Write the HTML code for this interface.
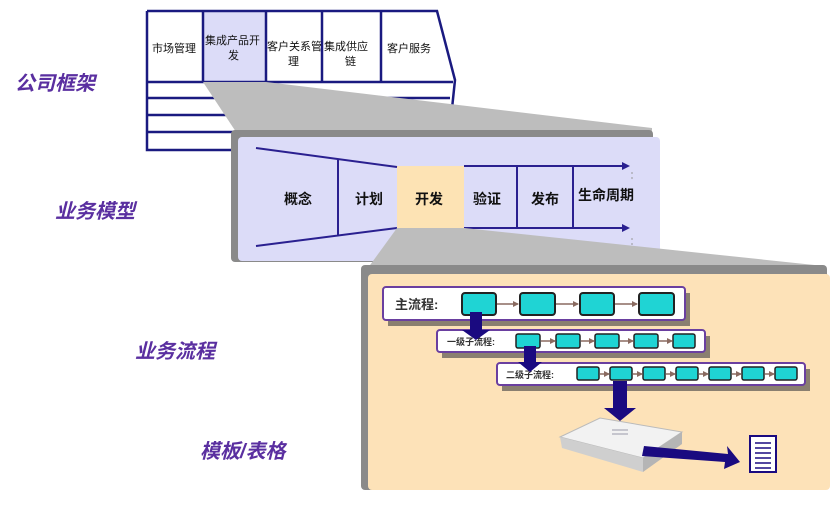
<!DOCTYPE html>
<html><head><meta charset="utf-8"><style>
body{margin:0;background:#fff}
svg text{font-family:"Liberation Sans","Noto Sans CJK SC",sans-serif}
.lab{fill:#5a2fa0;font-size:20px;font-style:italic;font-weight:bold}
.t{font-size:11px;fill:#111}
.m{font-size:14px;fill:#111;font-weight:bold}
</style></head><body>
<svg width="839" height="502" viewBox="0 0 839 502">
<defs><marker id="a" markerWidth="6" markerHeight="6" refX="5" refY="3" orient="auto" markerUnits="userSpaceOnUse"><path d="M0 0L6 3L0 6Z" fill="#8a6a60"/></marker></defs>
<rect width="839" height="502" fill="#fff"/>
<rect x="203" y="11" width="63" height="71" fill="#dcdcf8"/>
<g stroke="#1a1a80" stroke-width="2.5" fill="none">
<path d="M147 11 H437 L455 80 L451 118 M147 11 V150 H240"/>
<path d="M147 82 H453 M147 98 H450 M147 115 H449 M147 132 H240"/>
<path d="M203 11 V82 M266 11 V82 M322 11 V82 M381 11 V82"/>
</g>
<text class="t" x="152" y="52">市场管理</text>
<text class="t" x="205" y="44">集成产品开</text><text class="t" x="228" y="59">发</text>
<text class="t" x="267" y="50">客户关系管</text><text class="t" x="288" y="65">理</text>
<text class="t" x="324" y="50">集成供应</text><text class="t" x="345" y="65">链</text>
<text class="t" x="387" y="52">客户服务</text>
<polygon points="203,82 266,82 652,128 652,135 240,138" fill="#bdbdbd"/>
<rect x="231" y="130" width="422" height="132" rx="4" fill="#8a8a8a"/>
<rect x="238" y="137" width="422" height="124" rx="4" fill="#dcdcf8"/>
<rect x="397" y="166" width="67" height="62" fill="#fde3b4"/>
<g stroke="#2a2090" stroke-width="2" fill="none">
<path d="M256 148 L397 167 M256 246 L397 228 M338 160 V236"/>
<path d="M464 166 H622 M464 228 H622 M517 166 V228 M573 166 V228"/>
</g>
<path d="M622 162 L630 166 L622 170Z M622 224 L630 228 L622 232Z" fill="#2a2090"/>
<path d="M632 172 V182 M632 238 V250" stroke="#999" stroke-dasharray="2 3"/>
<g class="m">
<text x="284" y="204">概念</text><text x="355" y="204">计划</text><text x="415" y="204" >开发</text>
<text x="473" y="204">验证</text><text x="531" y="204">发布</text><text x="578" y="200">生命周期</text></g>
<polygon points="397,228 464,228 824,266 824,272 365,272" fill="#bdbdbd"/>
<rect x="361" y="265" width="466" height="225" rx="4" fill="#8a8a8a"/>
<rect x="368" y="274" width="462" height="216" rx="4" fill="#fde2b8"/>
<rect x="388" y="293" width="302" height="33" fill="#8a7f70"/>
<rect x="383" y="287" width="302" height="33" rx="3" fill="#fff" stroke="#6a3fa0" stroke-width="2"/>
<text x="395" y="309" style="font-size:13px;font-weight:bold;fill:#333">主流程:</text>
<g fill="#1fd4d4" stroke="#222" stroke-width="2">
<rect x="462" y="293" width="34" height="22" rx="3"/><rect x="520" y="293" width="35" height="22" rx="3"/>
<rect x="580" y="293" width="34" height="22" rx="3"/><rect x="639" y="293" width="35" height="22" rx="3"/></g>
<g stroke="#8a6a60" stroke-width="1.5" marker-end="url(#a)"><path d="M497 304H518"/><path d="M556 304H578"/><path d="M615 304H637"/></g>
<rect x="442" y="336" width="268" height="22" fill="#8a7f70"/>
<rect x="437" y="330" width="268" height="22" rx="3" fill="#fff" stroke="#6a3fa0" stroke-width="2"/>
<text x="447" y="345" style="font-size:9px;font-weight:bold;fill:#333">一级子流程:</text>
<g fill="#1fd4d4" stroke="#222" stroke-width="1.5">
<rect x="516" y="334" width="24" height="14" rx="2"/><rect x="556" y="334" width="24" height="14" rx="2"/>
<rect x="595" y="334" width="24" height="14" rx="2"/><rect x="634" y="334" width="24" height="14" rx="2"/><rect x="673" y="334" width="22" height="14" rx="2"/></g>
<g stroke="#8a6a60" stroke-width="1.5" marker-end="url(#a)"><path d="M541 341H555"/><path d="M581 341H594"/><path d="M620 341H633"/><path d="M659 341H672"/></g>
<rect x="502" y="369" width="308" height="22" fill="#8a7f70"/>
<rect x="497" y="363" width="308" height="22" rx="3" fill="#fff" stroke="#6a3fa0" stroke-width="2"/>
<text x="506" y="378" style="font-size:9px;font-weight:bold;fill:#333">二级子流程:</text>
<g fill="#1fd4d4" stroke="#222" stroke-width="1.5">
<rect x="577" y="367" width="22" height="13" rx="2"/><rect x="610" y="367" width="22" height="13" rx="2"/><rect x="643" y="367" width="22" height="13" rx="2"/>
<rect x="676" y="367" width="22" height="13" rx="2"/><rect x="709" y="367" width="22" height="13" rx="2"/><rect x="742" y="367" width="22" height="13" rx="2"/><rect x="775" y="367" width="22" height="13" rx="2"/></g>
<g stroke="#8a6a60" stroke-width="1.5" marker-end="url(#a)"><path d="M600 374H609"/><path d="M633 374H642"/><path d="M666 374H675"/><path d="M699 374H708"/><path d="M732 374H741"/><path d="M765 374H774"/></g>
<g fill="#1a0a80">
<path d="M470 312H482V330H490L476 340L462 330H470Z"/>
<path d="M524 346H536V362H542L530 372L518 362H524Z"/>
<path d="M613 381H627V408H636L620 421L604 408H613Z"/>
</g>
<polygon points="560,437 600,418 682,432 643,458" fill="#f2f2f2" stroke="#bbb"/>
<polygon points="560,437 643,458 643,472 562,448" fill="#cfcfcf"/>
<polygon points="643,458 682,432 682,444 643,472" fill="#b5b5b5"/>
<path d="M612 430H628M612 434H628" stroke="#99a"/>
<path d="M644 446 L728 454 L727 446 L740 462 L724 469 L725 462 L642 456Z" fill="#1a0a80"/>
<rect x="750" y="436" width="26" height="36" fill="#fff" stroke="#1a0a80" stroke-width="2"/>
<g stroke="#1a0a80" stroke-width="1.5"><path d="M755 443H771M755 448H771M755 453H771M755 458H771M755 463H771M755 468H771"/></g>
<text class="lab" x="15" y="90">公司框架</text>
<text class="lab" x="55" y="218">业务模型</text>
<text class="lab" x="135" y="358">业务流程</text>
<text class="lab" x="200" y="458">模板/表格</text>
</svg>
</body></html>
